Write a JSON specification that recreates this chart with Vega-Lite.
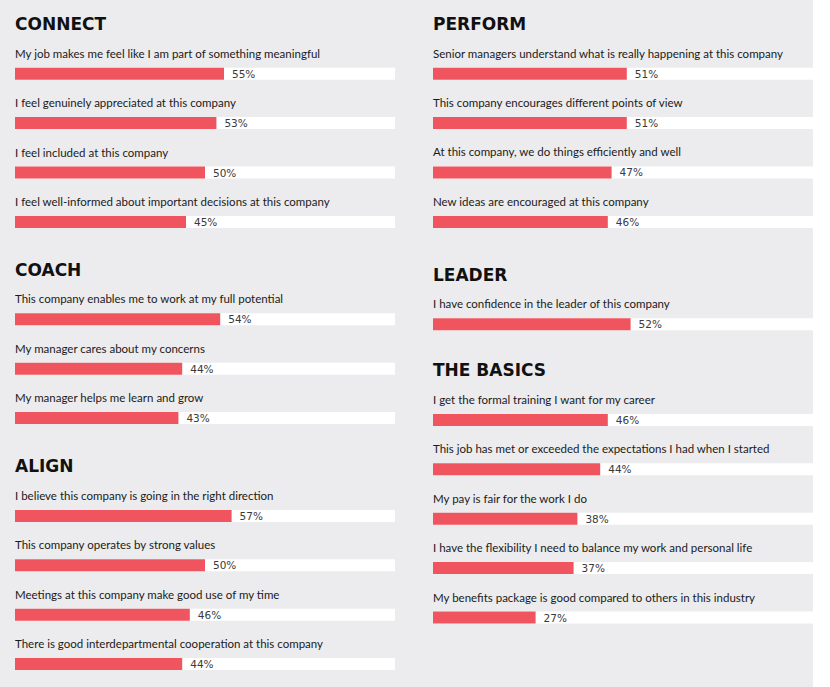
{
  "$schema": "https://vega.github.io/schema/vega-lite/v6.json",
  "background": "#ececee",
  "padding": {"left": 15, "top": 16, "right": 0, "bottom": 0},
  "bounds": "full",
  "spacing": 38,
  "config": {
    "view": {"stroke": null},
    "title": {"anchor": "start", "frame": "group", "font": "DejaVu Sans", "fontSize": 17, "fontWeight": "bold", "color": "#111111", "baseline": "alphabetic", "offset": 14.6}
  },
  "data": {"values": [
    {"group": "CONNECT", "item": "My job makes me feel like I am part of something meaningful", "pct": 0.55},
    {"group": "CONNECT", "item": "I feel genuinely appreciated at this company", "pct": 0.53},
    {"group": "CONNECT", "item": "I feel included at this company", "pct": 0.50},
    {"group": "CONNECT", "item": "I feel well-informed about important decisions at this company", "pct": 0.45},
    {"group": "COACH", "item": "This company enables me to work at my full potential", "pct": 0.54},
    {"group": "COACH", "item": "My manager cares about my concerns", "pct": 0.44},
    {"group": "COACH", "item": "My manager helps me learn and grow", "pct": 0.43},
    {"group": "ALIGN", "item": "I believe this company is going in the right direction", "pct": 0.57},
    {"group": "ALIGN", "item": "This company operates by strong values", "pct": 0.50},
    {"group": "ALIGN", "item": "Meetings at this company make good use of my time", "pct": 0.46},
    {"group": "ALIGN", "item": "There is good interdepartmental cooperation at this company", "pct": 0.44},
    {"group": "PERFORM", "item": "Senior managers understand what is really happening at this company", "pct": 0.51},
    {"group": "PERFORM", "item": "This company encourages different points of view", "pct": 0.51},
    {"group": "PERFORM", "item": "At this company, we do things efficiently and well", "pct": 0.47},
    {"group": "PERFORM", "item": "New ideas are encouraged at this company", "pct": 0.46},
    {"group": "LEADER", "item": "I have confidence in the leader of this company", "pct": 0.52},
    {"group": "THE BASICS", "item": "I get the formal training I want for my career", "pct": 0.46},
    {"group": "THE BASICS", "item": "This job has met or exceeded the expectations I had when I started", "pct": 0.44},
    {"group": "THE BASICS", "item": "My pay is fair for the work I do", "pct": 0.38},
    {"group": "THE BASICS", "item": "I have the flexibility I need to balance my work and personal life", "pct": 0.37},
    {"group": "THE BASICS", "item": "My benefits package is good compared to others in this industry", "pct": 0.27}
  ]},
  "hconcat": [
    {
      "bounds": "flush",
      "spacing": 47.6,
      "vconcat": [
        {
          "title": {"text": "CONNECT"},
          "transform": [{"filter": "datum.group === 'CONNECT'"}],
          "width": 380, "height": {"step": 49.4},
          "encoding": {"y": {"field": "item", "type": "nominal", "sort": null, "axis": null, "scale": {"paddingInner": 0, "paddingOuter": 0}}},
          "layer": [
            {"mark": {"type": "bar", "color": "#ffffff", "size": 12}, "encoding": {"x": {"datum": 1, "type": "quantitative", "scale": {"domain": [0, 1]}, "axis": null}}},
            {"mark": {"type": "bar", "color": "#f0545f", "size": 12}, "encoding": {"x": {"field": "pct", "type": "quantitative"}}},
            {"mark": {"type": "text", "align": "left", "baseline": "middle", "dx": 8, "dy": 1, "font": "DejaVu Sans", "fontSize": 10.5, "color": "#3a3a3a"}, "encoding": {"x": {"field": "pct", "type": "quantitative"}, "text": {"field": "pct", "type": "quantitative", "format": ".0%"}}},
            {"mark": {"type": "text", "align": "left", "baseline": "alphabetic", "dy": -16, "font": "Lato", "fontSize": 11.5, "color": "#1a1a1a"}, "encoding": {"x": {"datum": 0, "type": "quantitative"}, "text": {"field": "item"}}}
          ]
        },
        {
          "title": {"text": "COACH"},
          "transform": [{"filter": "datum.group === 'COACH'"}],
          "width": 380, "height": {"step": 49.4},
          "encoding": {"y": {"field": "item", "type": "nominal", "sort": null, "axis": null, "scale": {"paddingInner": 0, "paddingOuter": 0}}},
          "layer": [
            {"mark": {"type": "bar", "color": "#ffffff", "size": 12}, "encoding": {"x": {"datum": 1, "type": "quantitative", "scale": {"domain": [0, 1]}, "axis": null}}},
            {"mark": {"type": "bar", "color": "#f0545f", "size": 12}, "encoding": {"x": {"field": "pct", "type": "quantitative"}}},
            {"mark": {"type": "text", "align": "left", "baseline": "middle", "dx": 8, "dy": 1, "font": "DejaVu Sans", "fontSize": 10.5, "color": "#3a3a3a"}, "encoding": {"x": {"field": "pct", "type": "quantitative"}, "text": {"field": "pct", "type": "quantitative", "format": ".0%"}}},
            {"mark": {"type": "text", "align": "left", "baseline": "alphabetic", "dy": -16, "font": "Lato", "fontSize": 11.5, "color": "#1a1a1a"}, "encoding": {"x": {"datum": 0, "type": "quantitative"}, "text": {"field": "item"}}}
          ]
        },
        {
          "title": {"text": "ALIGN"},
          "transform": [{"filter": "datum.group === 'ALIGN'"}],
          "width": 380, "height": {"step": 49.4},
          "encoding": {"y": {"field": "item", "type": "nominal", "sort": null, "axis": null, "scale": {"paddingInner": 0, "paddingOuter": 0}}},
          "layer": [
            {"mark": {"type": "bar", "color": "#ffffff", "size": 12}, "encoding": {"x": {"datum": 1, "type": "quantitative", "scale": {"domain": [0, 1]}, "axis": null}}},
            {"mark": {"type": "bar", "color": "#f0545f", "size": 12}, "encoding": {"x": {"field": "pct", "type": "quantitative"}}},
            {"mark": {"type": "text", "align": "left", "baseline": "middle", "dx": 8, "dy": 1, "font": "DejaVu Sans", "fontSize": 10.5, "color": "#3a3a3a"}, "encoding": {"x": {"field": "pct", "type": "quantitative"}, "text": {"field": "pct", "type": "quantitative", "format": ".0%"}}},
            {"mark": {"type": "text", "align": "left", "baseline": "alphabetic", "dy": -16, "font": "Lato", "fontSize": 11.5, "color": "#1a1a1a"}, "encoding": {"x": {"datum": 0, "type": "quantitative"}, "text": {"field": "item"}}}
          ]
        }
      ]
    },
    {
      "bounds": "flush",
      "spacing": 45.6,
      "vconcat": [
        {
          "title": {"text": "PERFORM"},
          "transform": [{"filter": "datum.group === 'PERFORM'"}],
          "width": 380, "height": 204.6,
          "encoding": {"y": {"field": "item", "type": "nominal", "sort": null, "axis": null, "scale": {"paddingInner": 0, "paddingOuter": 0.0709, "align": 0}}},
          "layer": [
            {"mark": {"type": "bar", "color": "#ffffff", "size": 12}, "encoding": {"x": {"datum": 1, "type": "quantitative", "scale": {"domain": [0, 1]}, "axis": null}}},
            {"mark": {"type": "bar", "color": "#f0545f", "size": 12}, "encoding": {"x": {"field": "pct", "type": "quantitative"}}},
            {"mark": {"type": "text", "align": "left", "baseline": "middle", "dx": 8, "dy": 1, "font": "DejaVu Sans", "fontSize": 10.5, "color": "#3a3a3a"}, "encoding": {"x": {"field": "pct", "type": "quantitative"}, "text": {"field": "pct", "type": "quantitative", "format": ".0%"}}},
            {"mark": {"type": "text", "align": "left", "baseline": "alphabetic", "dy": -16, "font": "Lato", "fontSize": 11.5, "color": "#1a1a1a"}, "encoding": {"x": {"datum": 0, "type": "quantitative"}, "text": {"field": "item"}}}
          ]
        },
        {
          "title": {"text": "LEADER"},
          "transform": [{"filter": "datum.group === 'LEADER'"}],
          "width": 380, "height": {"step": 49.4},
          "encoding": {"y": {"field": "item", "type": "nominal", "sort": null, "axis": null, "scale": {"paddingInner": 0, "paddingOuter": 0}}},
          "layer": [
            {"mark": {"type": "bar", "color": "#ffffff", "size": 12}, "encoding": {"x": {"datum": 1, "type": "quantitative", "scale": {"domain": [0, 1]}, "axis": null}}},
            {"mark": {"type": "bar", "color": "#f0545f", "size": 12}, "encoding": {"x": {"field": "pct", "type": "quantitative"}}},
            {"mark": {"type": "text", "align": "left", "baseline": "middle", "dx": 8, "dy": 1, "font": "DejaVu Sans", "fontSize": 10.5, "color": "#3a3a3a"}, "encoding": {"x": {"field": "pct", "type": "quantitative"}, "text": {"field": "pct", "type": "quantitative", "format": ".0%"}}},
            {"mark": {"type": "text", "align": "left", "baseline": "alphabetic", "dy": -16, "font": "Lato", "fontSize": 11.5, "color": "#1a1a1a"}, "encoding": {"x": {"datum": 0, "type": "quantitative"}, "text": {"field": "item"}}}
          ]
        },
        {
          "title": {"text": "THE BASICS"},
          "transform": [{"filter": "datum.group === 'THE BASICS'"}],
          "width": 380, "height": {"step": 49.4},
          "encoding": {"y": {"field": "item", "type": "nominal", "sort": null, "axis": null, "scale": {"paddingInner": 0, "paddingOuter": 0}}},
          "layer": [
            {"mark": {"type": "bar", "color": "#ffffff", "size": 12}, "encoding": {"x": {"datum": 1, "type": "quantitative", "scale": {"domain": [0, 1]}, "axis": null}}},
            {"mark": {"type": "bar", "color": "#f0545f", "size": 12}, "encoding": {"x": {"field": "pct", "type": "quantitative"}}},
            {"mark": {"type": "text", "align": "left", "baseline": "middle", "dx": 8, "dy": 1, "font": "DejaVu Sans", "fontSize": 10.5, "color": "#3a3a3a"}, "encoding": {"x": {"field": "pct", "type": "quantitative"}, "text": {"field": "pct", "type": "quantitative", "format": ".0%"}}},
            {"mark": {"type": "text", "align": "left", "baseline": "alphabetic", "dy": -16, "font": "Lato", "fontSize": 11.5, "color": "#1a1a1a"}, "encoding": {"x": {"datum": 0, "type": "quantitative"}, "text": {"field": "item"}}}
          ]
        }
      ]
    }
  ]
}
